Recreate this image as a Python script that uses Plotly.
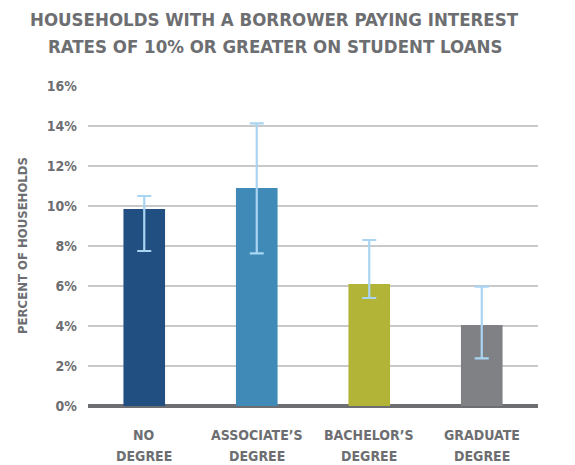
import plotly.graph_objects as go

categories = ["NO DEGREE", "ASSOCIATE’S DEGREE", "BACHELOR’S DEGREE", "GRADUATE DEGREE"]
label_line1 = ["NO", "ASSOCIATE’S", "BACHELOR’S", "GRADUATE"]
label_line2 = ["DEGREE", "DEGREE", "DEGREE", "DEGREE"]
values = [9.85, 10.9, 6.1, 4.05]
err_high = [10.5, 14.13, 8.3, 5.97]
err_low = [7.75, 7.63, 5.4, 2.38]
colors = ["#214F82", "#3F8AB6", "#B1B436", "#808184"]
y_ticks = [0, 2, 4, 6, 8, 10, 12, 14, 16]
y_tick_labels = [f"{t}%" for t in y_ticks]
title_lines = ["HOUSEHOLDS WITH A BORROWER PAYING INTEREST",
               "RATES OF 10% OR GREATER ON STUDENT LOANS"]

FONT = "DejaVu Sans Condensed, Liberation Sans Narrow, sans-serif"
TXT = "#6D6E71"

# page body has an 8px default margin; figure is sized to fill the rest of the window
W, H = 567, 457
L, T = 80, 78
R, B = 37, 59
PW, PH = W - L - R, H - T - B

fig = go.Figure(go.Bar(
    x=categories, y=values,
    marker=dict(color=colors, line=dict(width=0)),
    error_y=dict(type="data", symmetric=False,
                 array=[h - v for h, v in zip(err_high, values)],
                 arrayminus=[v - l for v, l in zip(values, err_low)],
                 color="#A9D5F2", thickness=2.2, width=7),
    width=0.37,
))

annotations = []
# title lines (screen centers y=20 and 46, minus 8px body margin)
for line, ys in zip(title_lines, [20, 46]):
    annotations.append(dict(text=f"<b>{line}</b>", x=(274.5 - 8 - L) / PW, xref="paper",
                            y=1 + (T - (ys - 8)) / PH, yref="paper",
                            xanchor="center", yanchor="middle", showarrow=False,
                            font=dict(size=18.5, family=FONT, color=TXT)))
# category labels
for c, l1, l2 in zip(categories, label_line1, label_line2):
    for txt, ys in ((l1, 435), (l2, 456)):
        annotations.append(dict(text=f"<b>{txt}</b>", x=c, xref="x",
                                y=-((ys - 8) - (T + PH)) / PH, yref="paper",
                                xanchor="center", yanchor="middle", showarrow=False,
                                font=dict(size=14, family=FONT, color=TXT)))
# y axis title
annotations.append(dict(text="<b>PERCENT OF HOUSEHOLDS</b>", textangle=-90,
                        x=(22 - 8 - L) / PW, xref="paper", y=0.5, yref="paper",
                        xanchor="center", yanchor="middle", showarrow=False,
                        font=dict(size=13, family=FONT, color=TXT)))

fig.update_layout(
    width=W, height=H,
    margin=dict(l=L, r=R, t=T, b=B, autoexpand=False),
    paper_bgcolor="white", plot_bgcolor="white",
    showlegend=False,
    font=dict(family=FONT, color=TXT),
    xaxis=dict(showgrid=False, showline=False, ticks="", showticklabels=False),
    yaxis=dict(range=[0, 16], tickvals=y_ticks, ticktext=[f"<b>{t}</b>" for t in y_tick_labels],
               showgrid=True, gridcolor="#C9C9C9", gridwidth=1.5,
               zeroline=True, zerolinecolor="#6D6E71", zerolinewidth=3.5,
               showline=False, ticks="", ticklabelstandoff=10,
               tickfont=dict(size=14, family=FONT, color=TXT)),
    annotations=annotations,
    bargap=0.63,
)
fig.write_html("out.html")
